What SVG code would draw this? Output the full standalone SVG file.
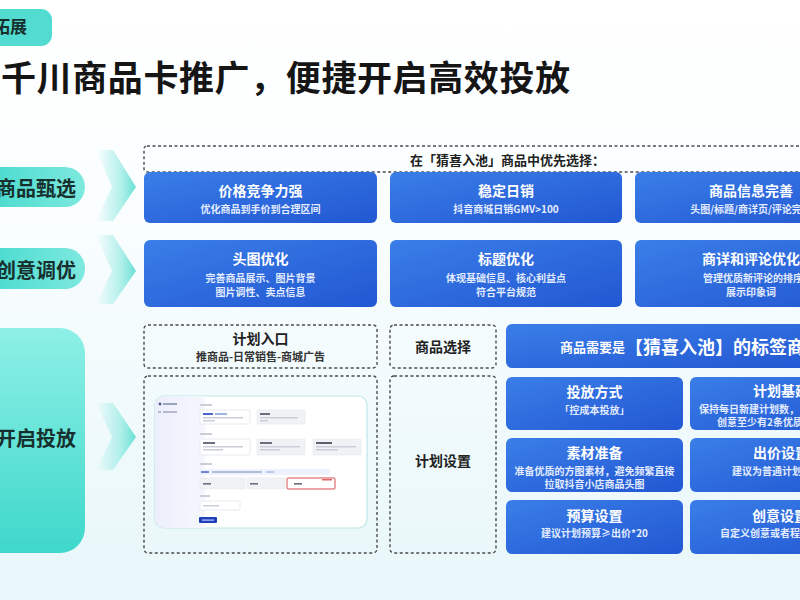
<svg xmlns="http://www.w3.org/2000/svg" width="800" height="600" viewBox="0 0 800 600">
<defs>
<linearGradient id="bg" x1="0" y1="0" x2="0" y2="1">
<stop offset="0" stop-color="#ffffff"/><stop offset="0.3" stop-color="#fbfeff"/><stop offset="1" stop-color="#e8f7fa"/>
</linearGradient>
<linearGradient id="blue" x1="0" y1="0" x2="1" y2="1">
<stop offset="0" stop-color="#3a7ee8"/><stop offset="1" stop-color="#2257d2"/>
</linearGradient>
<linearGradient id="teal" x1="0" y1="0" x2="1" y2="0">
<stop offset="0" stop-color="#3fd8cb"/><stop offset="1" stop-color="#7ee9df"/>
</linearGradient>
<linearGradient id="tealBig" x1="0" y1="0" x2="0" y2="1">
<stop offset="0" stop-color="#8ef0e6"/><stop offset="1" stop-color="#3ed8cb"/>
</linearGradient>
<linearGradient id="arrow" x1="0" y1="0" x2="1" y2="0">
<stop offset="0" stop-color="#7fe6dc" stop-opacity="0"/><stop offset="0.6" stop-color="#7fe6dc" stop-opacity="0.55"/><stop offset="1" stop-color="#66e0d5"/>
</linearGradient>
<linearGradient id="side" x1="0" y1="0" x2="1" y2="0">
<stop offset="0" stop-color="#eceefc"/><stop offset="1" stop-color="#f6f7fd"/>
</linearGradient>
<style>
.t{font-family:"Noto Sans CJK SC","Noto Sans",sans-serif;font-weight:bold}
.title{font-size:35px;fill:#151515;letter-spacing:0.6px}
.pill{font-size:20px;fill:#17302e}
.card{fill:url(#blue)}
.ct{font-size:14px;fill:#ffffff;text-anchor:middle;dominant-baseline:central}
.cs{font-size:10px;fill:#e3ecff;text-anchor:middle;dominant-baseline:central}
.ctl{font-size:14px;fill:#ffffff;dominant-baseline:central}
.csl{font-size:10px;fill:#e3ecff;dominant-baseline:central}
.dash{fill:none;stroke:#4c4c4c;stroke-width:1.4;stroke-dasharray:3 2.5}
.dt{font-size:14px;fill:#222;text-anchor:middle;dominant-baseline:central}
.ds{font-size:11px;fill:#333;text-anchor:middle;dominant-baseline:central}
.bar{fill:#c9ced8}
.box{fill:#ffffff;stroke:#e2e5ec;stroke-width:0.8}
.gbox{fill:#f1f2f5;stroke:#e6e8ee;stroke-width:0.6}
</style>
</defs>
<rect width="800" height="600" fill="url(#bg)"/>

<g id="tag">
<rect x="-20" y="9" width="72" height="37" rx="11" fill="#52dbd1"/>
<text class="t" x="-7" y="33" font-size="17" fill="#17302e">拓展</text>
</g>

<text class="t title" x="1" y="91">千川商品卡推广，便捷开启高效投放</text>

<g id="pill-select">
<rect x="-30" y="167" width="115" height="40" rx="20" fill="url(#teal)"/>
<text class="t pill" x="-4" y="187" dominant-baseline="central">商品甄选</text>
</g>
<g id="pill-creative">
<rect x="-30" y="248" width="115" height="41" rx="20" fill="url(#teal)"/>
<text class="t pill" x="-4" y="269" dominant-baseline="central">创意调优</text>
</g>
<g id="pill-launch">
<rect x="-30" y="328" width="115" height="225" rx="25" fill="url(#tealBig)"/>
<text class="t pill" x="-4" y="437" dominant-baseline="central">开启投放</text>
</g>

<g id="connectors">
<path d="M96,150 L113,150 L136,187 L113,221 L96,221 L112,187 Z" fill="url(#arrow)"/>
<path d="M96,235 L113,235 L136,271 L113,304 L96,304 L112,271 Z" fill="url(#arrow)"/>
<path d="M96,403 L113,403 L136,437 L113,470 L96,470 L112,437 Z" fill="url(#arrow)"/>
</g>

<g id="prefer-header">
<rect class="dash" x="144" y="146" width="680" height="26" rx="3"/>
<text class="t" x="410" y="159" font-size="13" fill="#222" dominant-baseline="central">在「猜喜入池」商品中优先选择：</text>
</g>

<g id="card-price">
<rect class="card" x="144" y="172" width="233" height="51" rx="6"/>
<text class="t ct" x="260.5" y="190">价格竞争力强</text>
<text class="t cs" x="260.5" y="208">优化商品到手价到合理区间</text>
</g>
<g id="card-sales">
<rect class="card" x="390" y="172" width="232" height="51" rx="6"/>
<text class="t ct" x="506" y="190">稳定日销</text>
<text class="t cs" x="506" y="208">抖音商城日销GMV&gt;100</text>
</g>
<g id="card-info">
<rect class="card" x="635" y="172" width="233" height="51" rx="6"/>
<text class="t ct" x="751" y="190">商品信息完善</text>
<text class="t cs" x="751" y="208">头图/标题/商详页/评论完善</text>
</g>

<g id="card-image">
<rect class="card" x="144" y="240" width="233" height="67" rx="6"/>
<text class="t ct" x="260.5" y="258">头图优化</text>
<text class="t cs" x="260.5" y="277">完善商品展示、图片背景</text>
<text class="t cs" x="260.5" y="291">图片调性、卖点信息</text>
</g>
<g id="card-title">
<rect class="card" x="390" y="240" width="232" height="67" rx="6"/>
<text class="t ct" x="506" y="258">标题优化</text>
<text class="t cs" x="506" y="277">体现基础信息、核心利益点</text>
<text class="t cs" x="506" y="291">符合平台规范</text>
</g>
<g id="card-detail">
<rect class="card" x="635" y="240" width="233" height="67" rx="6"/>
<text class="t ct" x="751" y="258">商详和评论优化</text>
<text class="t csl" x="703" y="277">管理优质新评论的排序</text>
<text class="t cs" x="751" y="291">展示印象词</text>
</g>

<g id="entry">
<rect class="dash" x="144" y="325" width="233" height="43" rx="4"/>
<text class="t dt" x="260.5" y="338" font-size="15">计划入口</text>
<text class="t ds" x="260.5" y="356">推商品-日常销售-商城广告</text>
</g>
<g id="product-select">
<rect class="dash" x="390" y="325" width="106" height="43" rx="4"/>
<text class="t dt" x="443" y="346">商品选择</text>
</g>
<g id="card-tag">
<rect class="card" x="506" y="324" width="320" height="44" rx="6"/>
<text class="t" x="560" y="346" font-size="13" fill="#fff" dominant-baseline="central">商品需要是<tspan font-size="18">【猜喜入池】的标签商品</tspan></text>
</g>

<g id="screenshot-box">
<rect class="dash" x="144" y="376" width="233" height="177" rx="4"/>
<rect x="155" y="396" width="212" height="132" rx="9" fill="#ffffff" stroke="#bfe7e4" stroke-width="1.2"/>
<path d="M164,396 L205,396 L205,528 L164,528 A9,9 0 0 1 155,519 L155,405 A9,9 0 0 1 164,396 Z" fill="url(#side)"/>
<circle cx="160" cy="404" r="1.4" fill="#4a5a8a"/>
<rect x="163" y="403" width="14" height="2" fill="#9aa3bd"/>
<rect x="158" y="411" width="3" height="2" fill="#b5bbcc"/>
<rect x="163" y="411" width="14" height="2" fill="#b5bbcc"/>
<rect class="bar" x="200" y="404" width="12" height="2"/>
<rect class="box" x="200" y="410" width="50" height="14" rx="1"/>
<rect x="203" y="413" width="10" height="2" fill="#4a66c8"/><rect x="215" y="413" width="12" height="2" fill="#9fb2e8"/>
<rect class="bar" x="203" y="417" width="40" height="1.5"/><rect class="bar" x="203" y="420" width="12" height="1.5"/>
<rect class="gbox" x="257" y="410" width="48" height="14" rx="1"/>
<rect x="260" y="413" width="10" height="2" fill="#6a7080"/>
<rect class="bar" x="260" y="417" width="38" height="1.5"/><rect class="bar" x="260" y="420" width="8" height="1.5"/>
<rect class="bar" x="200" y="433" width="12" height="2"/>
<rect class="box" x="200" y="439" width="50" height="16" rx="1"/>
<rect x="203" y="442" width="12" height="2" fill="#6a7080"/>
<rect class="bar" x="203" y="446" width="40" height="1.5"/><rect class="bar" x="203" y="449" width="20" height="1.5"/>
<rect class="gbox" x="257" y="439" width="48" height="16" rx="1"/>
<rect x="260" y="442" width="12" height="2" fill="#6a7080"/>
<rect class="bar" x="260" y="446" width="40" height="1.5"/><rect class="bar" x="260" y="449" width="20" height="1.5"/>
<rect class="gbox" x="313" y="439" width="48" height="16" rx="1"/>
<rect x="316" y="442" width="16" height="2" fill="#5a6070"/>
<rect class="bar" x="316" y="446" width="40" height="1.5"/><rect class="bar" x="316" y="449" width="22" height="1.5"/>
<rect class="bar" x="200" y="463" width="12" height="2"/>
<rect x="200" y="469" width="130" height="6" fill="#eef2fc"/>
<rect x="201" y="471" width="8" height="2" fill="#6f86d8"/><rect x="212" y="471" width="50" height="2" fill="#b0bbd8"/><rect x="266" y="471" width="8" height="2" fill="#b9c6ee"/>
<rect class="gbox" x="200" y="478" width="45" height="11" rx="1"/>
<rect x="203" y="483" width="8" height="1.6" fill="#6a7080"/>
<rect class="gbox" x="247" y="478" width="38" height="11" rx="1"/>
<rect x="250" y="483" width="8" height="1.6" fill="#6a7080"/>
<rect x="287" y="478" width="48" height="11" rx="1" fill="#ffffff" stroke="#d23a3a" stroke-width="0.9"/>
<rect x="294" y="483" width="8" height="1.6" fill="#6a7080"/>
<rect x="322" y="479" width="10" height="1.5" fill="#e06a6a"/>
<rect class="bar" x="200" y="495" width="10" height="2"/>
<rect class="box" x="200" y="501" width="40" height="9" rx="1"/>
<rect class="bar" x="203" y="505" width="16" height="1.5"/>
<rect x="199" y="517" width="18" height="6" rx="1" fill="#1f3fb8"/>
<rect x="202" y="519.5" width="12" height="1.2" fill="#b9c6ff"/>
</g>

<g id="plan-setting">
<rect class="dash" x="390" y="376" width="106" height="177" rx="4"/>
<text class="t dt" x="443" y="460">计划设置</text>
</g>

<g id="card-mode">
<rect class="card" x="506" y="377" width="177" height="53" rx="6"/>
<text class="t ct" x="594.5" y="391" font-size="15">投放方式</text>
<text class="t cs" x="594.5" y="409">「控成本投放」</text>
</g>
<g id="card-base">
<rect class="card" x="690" y="377" width="180" height="53" rx="6"/>
<text class="t ctl" x="753" y="390" font-size="15">计划基建</text>
<text class="t csl" x="699" y="408">保持每日新建计划数，</text>
<text class="t csl" x="717" y="421">创意至少有2条优质</text>
</g>
<g id="card-material">
<rect class="card" x="506" y="438" width="177" height="54" rx="6"/>
<text class="t ct" x="594.5" y="452" font-size="15">素材准备</text>
<text class="t cs" x="594.5" y="470">准备优质的方图素材，避免频繁直接</text>
<text class="t cs" x="594.5" y="483">拉取抖音小店商品头图</text>
</g>
<g id="card-bid">
<rect class="card" x="690" y="438" width="180" height="54" rx="6"/>
<text class="t ctl" x="753" y="452" font-size="15">出价设置</text>
<text class="t csl" x="732" y="470">建议为普通计划</text>
</g>
<g id="card-budget">
<rect class="card" x="506" y="500" width="177" height="54" rx="6"/>
<text class="t ct" x="594.5" y="515" font-size="15">预算设置</text>
<text class="t cs" x="594.5" y="532">建议计划预算≥出价*20</text>
</g>
<g id="card-creative">
<rect class="card" x="690" y="500" width="180" height="54" rx="6"/>
<text class="t ctl" x="752" y="515" font-size="15">创意设置</text>
<text class="t csl" x="720" y="532">自定义创意或者程</text>
</g>
</svg>
